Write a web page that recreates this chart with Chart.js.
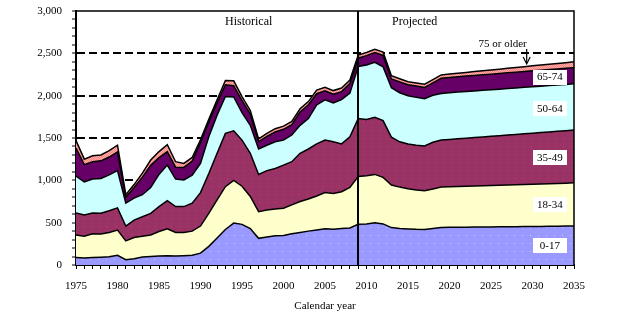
<!DOCTYPE html>
<html>
<head>
<meta charset="utf-8">
<script src="https://cdn.jsdelivr.net/npm/chart.js@4.4.1/dist/chart.umd.min.js"></script>
<style>
  html, body { margin: 0; padding: 0; background: #ffffff; }
  #wrap { width: 624px; height: 336px; }
</style>
</head>
<body>
<div id="wrap"><canvas id="chart" width="624" height="336"></canvas></div>
<script>
// Calendar years on the horizontal axis
const years = [
  1975, 1976, 1977, 1978, 1979, 1980, 1981, 1982, 1983, 1984,
  1985, 1986, 1987, 1988, 1989, 1990, 1991, 1992, 1993, 1994,
  1995, 1996, 1997, 1998, 1999, 2000, 2001, 2002, 2003, 2004,
  2005, 2006, 2007, 2008, 2009, 2010, 2011, 2012, 2013, 2014,
  2015, 2016, 2017, 2018, 2019, 2020, 2021, 2022, 2023, 2024,
  2025, 2026, 2027, 2028, 2029, 2030, 2031, 2032, 2033, 2034, 2035
];

// Values by age group (thousands), stacked from the youngest group upward
const age0to17 = [
  88, 82, 88, 92, 98, 115, 62, 75, 95, 100,
  105, 110, 105, 110, 115, 140, 220, 320, 420, 495,
  480, 430, 315, 330, 345, 348, 370, 385, 400, 413,
  428, 422, 430, 438, 480, 485, 498, 485, 442, 430,
  425, 421, 420, 432, 442, 445, 446, 447, 448, 449,
  450, 451, 452, 453, 454, 455, 456, 457, 459, 460, 462
];
const age18to34 = [
  267, 258, 280, 273, 286, 298, 223, 250, 245, 255,
  290, 318, 280, 275, 285, 320, 390, 450, 505, 505,
  450, 380, 315, 320, 315, 322, 340, 365, 380, 402,
  427, 423, 435, 477, 565, 570, 572, 550, 503, 490,
  475, 465, 458, 466, 478, 480, 482, 484, 486, 488,
  490, 492, 494, 496, 498, 500, 502, 504, 505, 507, 508
];
const age35to49 = [
  260, 252, 247, 247, 256, 262, 175, 205, 230, 255,
  295, 332, 305, 305, 330, 395, 470, 550, 630, 585,
  545, 510, 440, 465, 480, 510, 510, 570, 590, 615,
  620, 610, 565, 600, 685, 665, 675, 670, 565, 535,
  530, 529, 527, 552, 555, 557, 562, 566, 571, 575,
  580, 584, 589, 593, 598, 602, 607, 611, 616, 620, 625
];
const age50to64 = [
  435, 388, 400, 410, 425, 440, 270, 260, 260, 305,
  380, 420, 325, 315, 330, 345, 435, 450, 435, 400,
  325, 330, 300, 300, 315, 295, 315, 330, 360, 460,
  475, 460, 525, 515, 615, 642, 650, 635, 585, 580,
  570, 565, 560, 555, 550, 553, 552, 552, 551, 551,
  550, 550, 549, 549, 548, 548, 547, 547, 546, 546, 545
];
const age65to74 = [
  330, 205, 205, 208, 210, 220, 70, 125, 208, 262,
  198, 160, 140, 147, 167, 248, 173, 143, 138, 133,
  143, 133, 88, 103, 118, 128, 123, 158, 163, 133,
  108, 103, 93, 113, 98, 111, 113, 135, 103, 128,
  128, 133, 133, 147, 181, 180, 181, 182, 183, 184,
  184, 185, 186, 186, 187, 188, 188, 189, 190, 190, 191
];
const age75plus = [
  90, 65, 70, 70, 75, 80, 30, 35, 47, 63,
  72, 80, 65, 48, 43, 32, 32, 37, 52, 57,
  47, 42, 32, 37, 37, 37, 37, 37, 37, 42,
  42, 42, 42, 42, 37, 37, 40, 40, 37, 37,
  37, 37, 37, 38, 39, 40, 42, 44, 45, 47,
  49, 51, 53, 55, 57, 59, 61, 63, 65, 67, 69
];

const groupNames = ['0-17', '18-34', '35-49', '50-64', '65-74', '75 or older'];
const groupValues = [age0to17, age18to34, age35to49, age50to64, age65to74, age75plus];

const yTickLabels = ['0', '500', '1,000', '1,500', '2,000', '2,500', '3,000'];
const lastHistoricalYear = 2009;
const sectionTitles = ['Historical', 'Projected'];

// Small repeating fill textures
function texture(base, dot, size, dots) {
  const c = document.createElement('canvas');
  c.width = size; c.height = size;
  const g = c.getContext('2d');
  g.fillStyle = base; g.fillRect(0, 0, size, size);
  g.fillStyle = dot;
  dots.forEach(([x, y]) => g.fillRect(x, y, 1, 1));
  return g.createPattern(c, 'repeat');
}
const ctx = document.getElementById('chart').getContext('2d');
const fills = [
  texture('#9999FF', '#C8C8FF', 8, [[2, 3]]),
  texture('#FFFFCC', '#FFFFE8', 8, [[5, 6]]),
  texture('#993366', '#E0306A', 8, [[3, 2]]),
  texture('#CCFFFF', '#F2FFFF', 8, [[1, 5]]),
  '#660066',
  texture('#FF8080', '#FFB0A8', 2, [[0, 0], [1, 1]])
];

const datasets = groupValues.map((vals, i) => ({
  label: groupNames[i],
  data: vals.map((v, k) => ({ x: years[k], y: v })),
  backgroundColor: fills[i],
  borderColor: '#000000',
  borderWidth: 1.5,
  pointRadius: 0,
  tension: 0,
  fill: i === 0 ? 'origin' : '-1'
}));

const SERIF = '"Liberation Serif", "Times New Roman", serif';

const decor = {
  id: 'decor',
  afterDatasetsDraw(chart) {
    const { ctx: g, chartArea: a, scales: { x, y } } = chart;
    g.save();
    // frame on top and right
    g.strokeStyle = '#000'; g.lineWidth = 1.5;
    g.beginPath();
    g.moveTo(a.left, a.top); g.lineTo(a.right, a.top); g.lineTo(a.right, a.bottom);
    g.stroke();
    // divider between historical and projected years
    const xd = Math.round(x.getPixelForValue(lastHistoricalYear));
    g.lineWidth = 2;
    g.beginPath(); g.moveTo(xd, a.top); g.lineTo(xd, a.bottom); g.stroke();

    g.fillStyle = '#000';
    g.font = '12px ' + SERIF;
    g.textAlign = 'center'; g.textBaseline = 'middle';
    g.fillText(sectionTitles[0], x.getPixelForValue(1995.8), a.top + 11);
    g.fillText(sectionTitles[1], x.getPixelForValue(2015.8), a.top + 11);

    // "75 or older" note with arrow
    const xa = x.getPixelForValue(2029.3);
    g.font = '11px ' + SERIF;
    g.fillText(groupNames[5], x.getPixelForValue(2026.4), a.top + 33);
    g.lineWidth = 1.2;
    g.beginPath(); g.moveTo(xa, a.top + 38); g.lineTo(xa, a.top + 52); g.stroke();
    g.beginPath();
    g.moveTo(xa - 3.5, a.top + 46); g.lineTo(xa, a.top + 53); g.lineTo(xa + 3.5, a.top + 46);
    g.stroke();

    // boxed group labels inside each band
    const idx = years.indexOf(2032);
    let below = y.getPixelForValue(0);
    const cx = x.getPixelForValue(2032.1);
    for (let i = 0; i < 5; i++) {
      const top = chart.getDatasetMeta(i).data[idx].y;
      const cy = (top + below) / 2;
      below = top;
      g.fillStyle = '#fff';
      g.fillRect(Math.round(cx - 17), Math.round(cy - 8), 34, 15);
      g.fillStyle = '#000';
      g.font = '11px ' + SERIF;
      g.fillText(groupNames[i], cx, cy);
    }
    g.restore();
  }
};

Chart.defaults.font.family = SERIF;
Chart.defaults.color = '#000';

new Chart(ctx, {
  type: 'line',
  data: { datasets },
  options: {
    responsive: false,
    animation: false,
    layout: { padding: { top: 11, right: 50, left: 0, bottom: 0 } },
    plugins: { legend: { display: false }, tooltip: { enabled: false } },
    scales: {
      x: {
        type: 'linear',
        min: 1975, max: 2035,
        afterFit: s => { s.height = 71; s.paddingLeft = 0; s.paddingRight = 0; },
        ticks: {
          stepSize: 1, autoSkip: false, maxRotation: 0, padding: 11,
          font: { size: 11 },
          callback: v => (v % 5 === 0 ? String(v) : '')
        },
        grid: { color: 'rgba(0,0,0,0)', tickColor: '#000', tickLength: 4, tickWidth: 1 },
        border: { color: '#000', width: 2 },
        title: { display: true, text: 'Calendar year', font: { size: 11 }, padding: { top: 0, bottom: 23 } }
      },
      y: {
        stacked: true,
        min: 0, max: 3000,
        afterFit: s => { s.width = 76; s.paddingTop = 0; s.paddingBottom = 0; },
        ticks: {
          stepSize: 100, autoSkip: false, padding: 10,
          font: { size: 11 },
          callback: v => (v % 500 === 0 ? yTickLabels[v / 500] : '')
        },
        grid: {
          color: c => (c.tick && c.tick.value % 500 === 0 && c.tick.value > 0 && c.tick.value < 3000) ? '#000' : 'rgba(0,0,0,0)',
          lineWidth: 2,
          tickColor: '#000', tickLength: 4, tickWidth: 1, tickBorderDash: []
        },
        border: { color: '#000', width: 2, dash: [8, 4] }
      }
    }
  },
  plugins: [decor]
});
</script>
</body>
</html>
